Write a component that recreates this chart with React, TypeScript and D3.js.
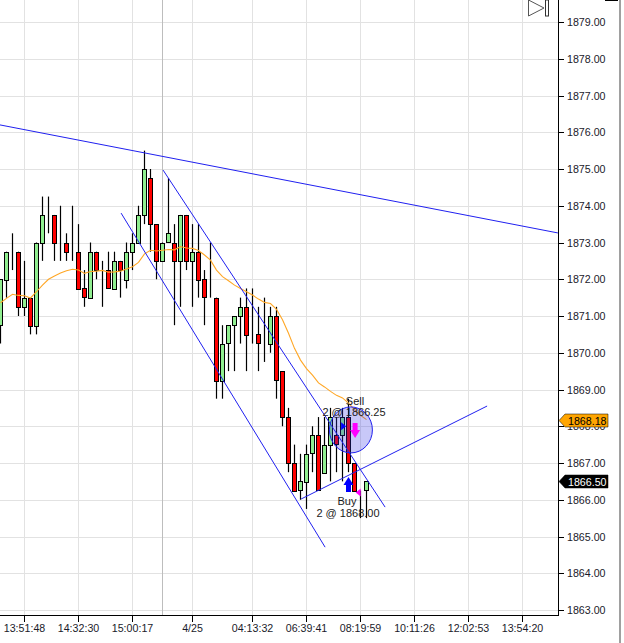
import { useEffect, useRef } from "react";
import * as d3 from "d3";

const width = 624;
const height = 643;
const plotRight = 558;
const plotBottom = 615;

// [open, high, low, close] in 0.25 ticks
const bars = [
  [1870.75, 1872, 1870.25, 1872],
  [1872, 1872.75, 1871.5, 1872.75],
  [1872.75, 1873.25, 1872.25, 1872.75],
  [1872.75, 1872.75, 1871, 1871.25],
  [1871.25, 1872.5, 1871, 1871.5],
  [1871.5, 1871.5, 1870.5, 1870.75],
  [1870.75, 1873, 1870.5, 1873],
  [1873, 1874.25, 1872.5, 1873.75],
  [1873.75, 1874.25, 1873.25, 1873.75],
  [1873.75, 1873.75, 1872.5, 1873],
  [1873, 1874, 1872.5, 1873],
  [1873, 1873.25, 1872.5, 1872.75],
  [1872.75, 1874, 1872.5, 1872.75],
  [1872.75, 1873.5, 1871.75, 1871.75],
  [1871.75, 1872.25, 1871.25, 1871.5],
  [1871.5, 1873, 1871.5, 1872.75],
  [1872.75, 1872.75, 1872, 1872.25],
  [1872.25, 1872.5, 1871.25, 1872.25],
  [1872.25, 1872.75, 1871.75, 1871.75],
  [1871.75, 1872.75, 1871.75, 1872.5],
  [1872.5, 1872.5, 1871.5, 1872.25],
  [1872, 1873, 1871.75, 1872.75],
  [1872.75, 1873.25, 1872.25, 1873],
  [1873, 1874, 1873, 1873.75],
  [1873.75, 1875.5, 1873.5, 1875],
  [1874.75, 1875, 1872.75, 1873.5],
  [1873.5, 1873.5, 1872, 1872.5],
  [1872.5, 1873, 1872.5, 1873],
  [1873, 1874.75, 1873, 1873.25],
  [1873, 1873.5, 1870.75, 1872.5],
  [1872.5, 1873.75, 1871.25, 1873.75],
  [1873.75, 1873.75, 1872.25, 1872.5],
  [1872.5, 1873.5, 1871.25, 1872.75],
  [1872.75, 1873.5, 1871.5, 1872],
  [1872, 1872.25, 1870.75, 1871.5],
  [1871.5, 1873, 1871.5, 1871.5],
  [1871.5, 1871.5, 1868.75, 1869.25],
  [1869.25, 1870.75, 1868.75, 1870.25],
  [1870.25, 1870.75, 1869.5, 1870.75],
  [1870.75, 1871, 1869.5, 1871],
  [1871, 1871.5, 1870.25, 1871.25],
  [1871.25, 1871.75, 1869.5, 1870.5],
  [1870.5, 1871.75, 1870.25, 1870.5],
  [1870.5, 1871.25, 1869.5, 1870.25],
  [1870.25, 1871.5, 1869.75, 1870.25],
  [1870.25, 1871.25, 1870, 1871],
  [1871, 1871.25, 1868.75, 1869.25],
  [1869.5, 1869.5, 1868, 1868.25],
  [1868.25, 1868.5, 1866.75, 1867],
  [1867, 1867.5, 1866.25, 1866.25],
  [1866.25, 1867.25, 1866, 1866.5],
  [1866.5, 1867.5, 1865.75, 1867.25],
  [1867.25, 1868, 1866.75, 1867.75],
  [1867.75, 1868.25, 1866.25, 1866.25],
  [1866.75, 1868.25, 1866.75, 1867.5],
  [1867.5, 1868.5, 1866.5, 1868.25],
  [1867.75, 1868.25, 1866.75, 1867.5],
  [1867.75, 1868.5, 1866.5, 1868.25],
  [1868.25, 1868.75, 1866.75, 1867],
  [1867, 1867, 1866.25, 1866.25],
  [1866.25, 1866.25, 1865.5, 1866.25],
  [1866.25, 1866.5, 1865.5, 1866.5],
];

// orange moving average, one value per bar
const average = [
  1871.36, 1871.48, 1871.59, 1871.56, 1871.55, 1871.49, 1871.66, 1871.84, 1872.0, 1872.09,
  1872.17, 1872.23, 1872.27, 1872.25, 1872.16, 1872.21, 1872.22, 1872.24, 1872.19, 1872.2,
  1872.22, 1872.28, 1872.34, 1872.46, 1872.69, 1872.79, 1872.77, 1872.79, 1872.81, 1872.8,
  1872.89, 1872.85, 1872.84, 1872.78, 1872.66, 1872.52, 1872.25, 1872.07, 1871.96, 1871.84,
  1871.75, 1871.66, 1871.57, 1871.46, 1871.37, 1871.34, 1871.18, 1870.9, 1870.53, 1870.12,
  1869.8, 1869.57, 1869.39, 1869.18, 1869.07, 1868.95, 1868.84, 1868.77, 1868.63, 1868.45,
  1868.3, 1868.18,
];

// trend lines as [bar index, price] pairs
const trendLines = [
  [[-0.1, 1876.2], [92.9, 1873.26]],
  [[27.1, 1874.97], [64.1, 1865.8]],
  [[20.1, 1873.8], [54.1, 1864.71]],
  [[50.1, 1866.02], [81.1, 1868.55]],
];

const priceTicks = d3.range(1863, 1880);
const timeTicks = [
  [4, "13:51:48"],
  [13, "14:32:30"],
  [22, "15:00:17"],
  [32, "4/25"],
  [42, "04:13:32"],
  [51, "06:39:41"],
  [60, "08:19:59"],
  [69, "10:11:26"],
  [78, "12:02:53"],
  [87, "13:54:20"],
];
const cursorBar = 27;

export default function App() {
  const chart = useRef(null);

  const x = d3.scaleLinear().domain([0, 93]).range([0.5, 558.5]);
  const y = d3.scaleLinear().domain([1879, 1863]).range([22, 610]);

  useEffect(() => {
    const svg = d3.select(chart.current);
    svg.selectAll("*").remove();
    const font = "Liberation Sans, Arial, sans-serif";
    const axisSize = 10.67;

    // grid
    const grid = svg.append("g").attr("stroke", "#e2e2e2");
    grid.selectAll("line.h").data(priceTicks).join("line")
      .attr("class", "h")
      .attr("x1", 0).attr("x2", plotRight)
      .attr("y1", d => Math.round(y(d)) + 0.5).attr("y2", d => Math.round(y(d)) + 0.5);
    grid.selectAll("line.v").data(timeTicks).join("line")
      .attr("class", "v")
      .attr("x1", d => Math.floor(x(d[0])) + 0.5).attr("x2", d => Math.floor(x(d[0])) + 0.5)
      .attr("y1", 0).attr("y2", plotBottom);

    svg.append("line")
      .attr("x1", Math.floor(x(cursorBar)) + 0.5).attr("x2", Math.floor(x(cursorBar)) + 0.5)
      .attr("y1", 0).attr("y2", plotBottom)
      .attr("stroke", "#bdbdbd");

    // candles
    const candle = svg.append("g").selectAll("g").data(bars).join("g");
    candle.append("line")
      .attr("x1", (d, i) => Math.floor(x(i)) + 0.5).attr("x2", (d, i) => Math.floor(x(i)) + 0.5)
      .attr("y1", d => y(d[1])).attr("y2", d => y(d[2]))
      .attr("stroke", "#000")
      .attr("stroke-width", 1.2);
    candle.append("rect")
      .attr("x", (d, i) => Math.floor(x(i)) - 1.5)
      .attr("width", 4)
      .attr("y", d => Math.round(y(Math.max(d[0], d[3]))) + 0.5)
      .attr("height", d => Math.round(Math.abs(y(d[0]) - y(d[3]))))
      .attr("fill", d => d[3] > d[0] ? "#90ee90" : "#ff0000")
      .attr("stroke", "#000")
      .attr("stroke-width", 1);

    // moving average
    svg.append("path")
      .attr("d", d3.line().x((d, i) => x(i)).y(d => y(d))(average))
      .attr("fill", "none")
      .attr("stroke", "#ffa726")
      .attr("stroke-width", 1.1);

    // trend lines
    svg.append("g").selectAll("line").data(trendLines).join("line")
      .attr("x1", d => x(d[0][0])).attr("y1", d => y(d[0][1]))
      .attr("x2", d => x(d[1][0])).attr("y2", d => y(d[1][1]))
      .attr("stroke", "#2020f0")
      .attr("stroke-width", 1);

    // ellipse marker
    svg.append("ellipse")
      .attr("cx", x(58.4)).attr("cy", y(1867.9)).attr("rx", 21.5).attr("ry", 23)
      .attr("fill", "rgba(50,50,230,0.27)")
      .attr("stroke", "#2020f0")
      .attr("stroke-width", 1);

    // execution arrows
    const arrow = (cx, top, bottom, color, up) => {
      const head = up ? top : bottom;
      const neck = up ? top + 8 : bottom - 8;
      const tail = up ? bottom : top;
      svg.append("path")
        .attr("d", `M${cx},${head}L${cx + 5},${neck}L${cx + 2.5},${neck}L${cx + 2.5},${tail}L${cx - 2.5},${tail}L${cx - 2.5},${neck}L${cx - 5},${neck}Z`)
        .attr("fill", color);
    };
    arrow(x(59.1), 423, 438, "#ff00ff", false);
    arrow(x(58), 477, 492, "#0000ff", true);

    // small entry and exit triangles
    const triangle = (tipX, tipY, dir, color) => {
      svg.append("path")
        .attr("d", `M${tipX},${tipY}L${tipX - dir * 5},${tipY - 4}L${tipX - dir * 5},${tipY + 4}Z`)
        .attr("fill", color);
    };
    triangle(x(57.6), y(1868), 1, "#0000ff");
    triangle(x(59.2), y(1866.2), -1, "#ff00ff");

    // labels
    const labels = svg.append("g")
      .attr("font-family", font).attr("font-size", 11).attr("fill", "#1a1a1a")
      .attr("text-anchor", "middle");
    labels.append("text").attr("x", 355).attr("y", 405).text("Sell");
    labels.append("text").attr("x", 354).attr("y", 416).text("2 @ 1866.25");
    labels.append("text").attr("x", 347).attr("y", 505).text("Buy");
    labels.append("text").attr("x", 348).attr("y", 517).text("2 @ 1868.00");

    // axes
    const axis = svg.append("g").attr("stroke", "#000").attr("shape-rendering", "crispEdges");
    axis.append("line").attr("x1", plotRight + 0.5).attr("x2", plotRight + 0.5).attr("y1", 0).attr("y2", plotBottom + 1);
    axis.append("line").attr("x1", 0).attr("x2", plotRight).attr("y1", plotBottom + 0.5).attr("y2", plotBottom + 0.5);
    axis.selectAll("line.py").data(priceTicks).join("line")
      .attr("class", "py")
      .attr("x1", plotRight).attr("x2", plotRight + 6)
      .attr("y1", d => Math.round(y(d)) + 0.5).attr("y2", d => Math.round(y(d)) + 0.5);
    axis.selectAll("line.tx").data(timeTicks).join("line")
      .attr("class", "tx")
      .attr("x1", d => Math.floor(x(d[0])) + 0.5).attr("x2", d => Math.floor(x(d[0])) + 0.5)
      .attr("y1", plotBottom).attr("y2", plotBottom + 7);

    svg.append("g").selectAll("text").data(priceTicks).join("text")
      .attr("x", plotRight + 9)
      .attr("y", d => y(d) + 4)
      .attr("font-family", font).attr("font-size", axisSize).attr("fill", "#1a1a2a")
      .text(d => d3.format(".2f")(d));

    svg.append("g").selectAll("text").data(timeTicks).join("text")
      .attr("x", d => x(d[0]))
      .attr("y", plotBottom + 17)
      .attr("text-anchor", "middle")
      .attr("font-family", font).attr("font-size", axisSize).attr("fill", "#1a1a2a")
      .text(d => d[1]);

    // last value tags
    const tag = (price, fill, color) => {
      const cy = Math.round(y(price)) + 0.5;
      svg.append("path")
        .attr("d", `M${plotRight + 1},${cy}L${plotRight + 7},${cy - 6.5}L${plotRight + 50},${cy - 6.5}L${plotRight + 50},${cy + 6.5}L${plotRight + 7},${cy + 6.5}Z`)
        .attr("fill", fill).attr("stroke", "#000").attr("stroke-width", 0.5);
      svg.append("text")
        .attr("x", plotRight + 10).attr("y", cy + 4)
        .attr("font-family", font).attr("font-size", axisSize).attr("fill", color)
        .text(d3.format(".2f")(price));
    };
    tag(1868.18, "#ffa500", "#000");
    tag(1866.5, "#000", "#fff");

    // right border
    svg.append("rect").attr("x", 619).attr("y", 0).attr("width", 2).attr("height", height).attr("fill", "#a0a0a0");

    // scroll-to-end button
    svg.append("path").attr("d", "M528.5,0L544,8L528.5,16Z").attr("fill", "none").attr("stroke", "#555");
    svg.append("rect").attr("x", 545.5).attr("y", 0).attr("width", 3).attr("height", 16).attr("fill", "none").attr("stroke", "#333");
    svg.append("line").attr("x1", 605).attr("x2", 618).attr("y1", 0.5).attr("y2", 0.5).attr("stroke", "#000");
  }, []);

  return (
    <svg ref={chart} width={width} height={height} style={{ position: "absolute", left: 0, top: 0, background: "#fff" }} />
  );
}
